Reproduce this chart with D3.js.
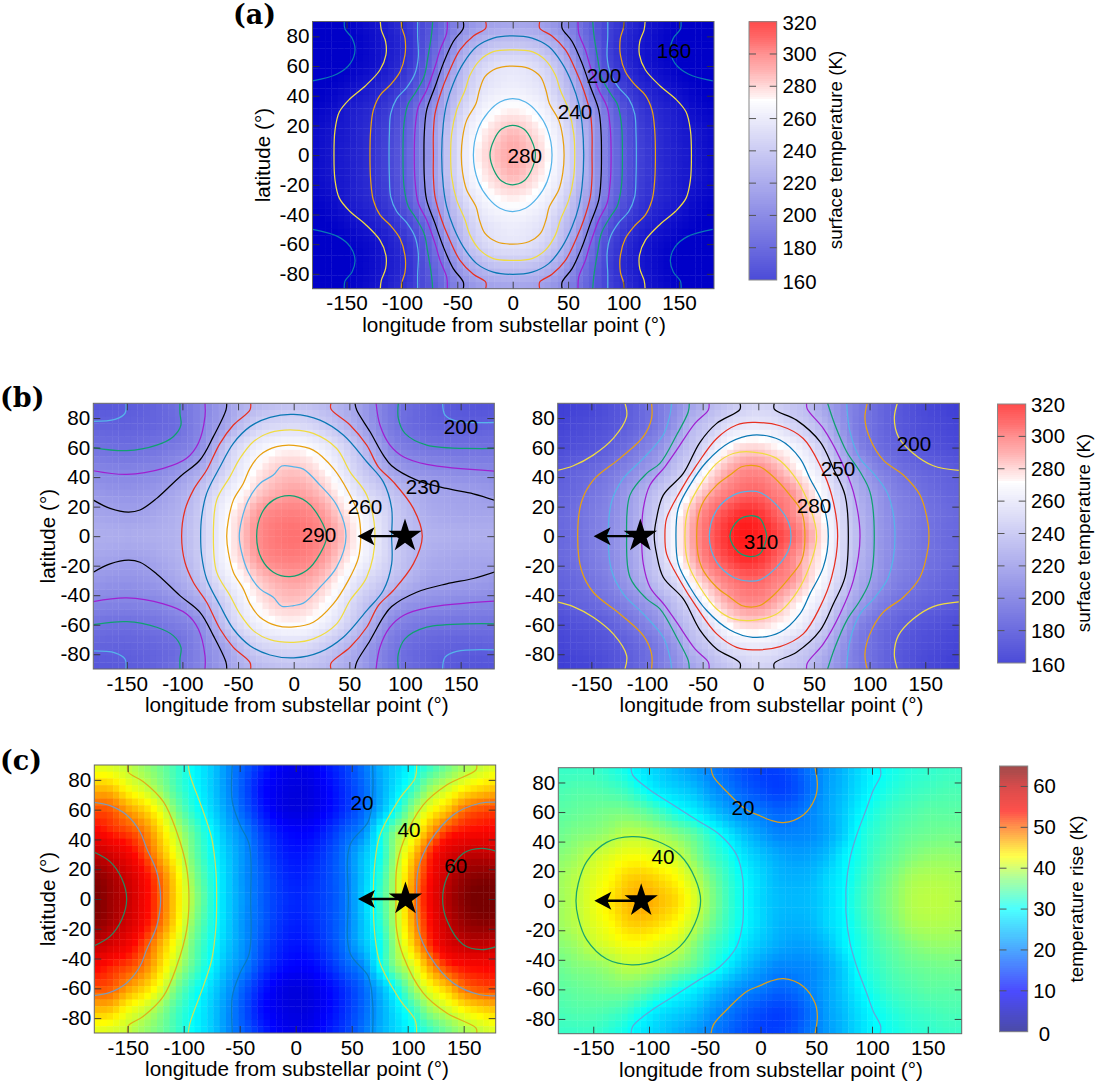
<!DOCTYPE html>
<html>
<head>
<meta charset="utf-8">
<title>Surface temperature maps</title>
<script src="https://cdn.jsdelivr.net/npm/d3@7"></script>
<style>
  html, body { margin: 0; padding: 0; background: #fff; }
  svg { display: block; }
  text { font-family: "Liberation Sans", Helvetica, Arial, sans-serif; fill: #000; }
</style>
</head>
<body>
<svg id="chart" width="1099" height="1088"></svg>
<script>
// ---- Axis values ----
const xTicks = [-150, -100, -50, 0, 50, 100, 150];
const yTicks = [-80, -60, -40, -20, 0, 20, 40, 60, 80];
const tempBarTicks = [160, 180, 200, 220, 240, 260, 280, 300, 320];
const riseBarTicks = [0, 10, 20, 30, 40, 50, 60];
const xTitle = "longitude from substellar point (°)";
const yTitle = "latitude (°)";

// ---- Field samples: one row per latitude, northern hemisphere, equator first ----
const gridLats = [0, 15, 30, 45, 60, 75, 90];
const gridLons = [-180,-165,-150,-135,-120,-105,-90,-75,-60,-45,-30,-15,0,15,30,45,60,75,90,105,120,135,150,165,180];

// western half only; this map is symmetric about the substellar meridian
const tempDayNight = [
  [165,169,173,178,186,196,209,225,244,261,274,282,286],
  [165,169,172,178,185,195,208,226,243,260,271,278.5,283],
  [162,165,171,176,182,192,205,222,237,254,265,271,273],
  [158,161,165,170,176,184,196,210,232,246,258,263,265],
  [156,158,160,164,169,177,188,204,223,241,252,258.5,260],
  [156,158,159.5,163,168.5,175,185,200,214,231,240,245,246],
  [157,158.5,160,165,170,178,187,197,209,220,228,231,232]
];
const tempPlanetA = [
  [236.5,236,235.5,236,237,239,246,257.5,270,282.5,291.5,295.5,297,295,290,281.5,270,261.5,249,243,239,237.5,237,236.5,236.5],
  [232.5,231.5,230.5,231,234,237.5,245,257.5,269,280,289.5,293,294,292,286.5,277,268,259,249,242,236,234,233,232.5,232.5],
  [227,225,224.5,225.5,228.5,234,241,252.5,263,271.5,280.5,285,287,285,279,269,258.5,251,244,238,232,230.5,230,229,227],
  [219,218,217.5,218.5,220,224.5,231.5,241.5,254,265,274,279.5,281,278,271,261,249.5,240.5,230.5,225,222.5,221,220,219.5,219],
  [210,209,208.5,209.5,211.5,214.5,219,231,247.5,259,266,270,271,269,263,254,243,231,218.5,214,211,210,210,210,209.5],
  [203.5,203,203,204,205.5,208,215,224,233,245,252.5,255,256,254,248.5,241,232.5,221,212,207,204,202.5,202,202,202.5],
  [198,199,200,202,205,209.5,215.5,222,230,237.5,241.5,244,245,244,240.5,236,229,219.5,211,207,203,200,198,197,197]
];
const tempPlanetB = [
  [205.5,209,214.5,220,229,240,253.5,269,286,299,308,314,312.5,307,299.5,287.5,273,256,241.5,229.5,221,215.5,211,207.5,205.5],
  [206,209,214,219.5,228,239,250.5,267,283,296,304,309.5,308.5,301.5,292,281,270.5,254,240,229,220.5,215.5,211,208,206],
  [203.5,206,211,216.5,225.5,235.5,245.5,256,272,284,293,298.5,299.5,294,289,278,266,251,236,227,218,213,208.5,205.5,203.5],
  [199.5,203,206,211,217,224.5,233,244.5,256,271.5,283.5,290,291,286,277,268.5,258,242,230,219,212,207.5,204,202,200],
  [193,195.5,197.5,201.5,208,215,223,236,246,258,270,277,278,273.5,268.5,260,248.5,232.5,218,210,204.5,200,197,195,193],
  [190,192,194,197,201,207,214,225.5,240,247,256,261,262,260,253,247.5,238,224.5,213.5,208,201.5,197,194,192,190],
  [187,189,191,195,200,206,213.5,221.5,231,239.5,245,250,253,250,246,241.5,231,222,214,207.5,201.5,196,192,189.5,187]
];
const riseStarA = [
  [65,62.5,60,55,50,44,38,32,26,21.5,17.5,14.5,13,14,16,19.5,26,33,40,48.5,55,61,64,65.5,65.5],
  [64,62,59,54.5,49.5,43.5,37,31.5,26,21,17.5,14,12.5,13.5,16,19.5,25.5,32,40,47.5,54,60,63,64,64],
  [60.5,58.5,55.5,51.5,46.5,41.5,35.5,30.5,25.5,21,16.5,13,11.5,12.5,15.5,19.5,25,30.5,39,45.5,52.5,57.5,60,60.5,60],
  [55,53,51.5,49,44.5,39.5,34.5,29.5,24,20,15,11.5,10,10.5,13.5,17.5,21,30,37.5,41.5,47.5,52,54,54.5,55],
  [51,50.5,47.5,45,41.5,36,31.5,27,22,17,12,8.5,7.5,8,10.5,14,18,24,31,38,42.5,45.5,49.5,51,51.5],
  [46,45.5,42.5,40.5,37.5,33.5,30,26,21,16,11,8.5,7.5,8,10.5,14,18,23,28,33,38,40.5,43,44.5,45.5],
  [41.5,41,40,38,36,33,29.5,26,21,17,13,9.5,8.5,9,12,15,19,23.5,27,30,33,36,38.5,40,41.5]
];
const riseStarB = [
  [38.5,40,42,44,46,47,46,44.5,41.5,37.5,33.5,30,27,25,24.5,25,27,30,33,35.5,37.5,39.3,39.8,39.8,39.2],
  [38.5,39.8,41.5,43,45,45.5,44.5,43,40.2,36.5,33,29.8,27,24.5,24,24.5,27,29.5,32.5,35,37,38.8,39.3,39.3,39],
  [37.5,38.5,40.3,41.5,42.5,42.5,41.5,40.5,37.5,34,31.5,28,25.5,23.5,22.5,23,25,29,31.5,34,35.5,37,37.8,38,37.8],
  [36,37,37.5,38.5,39.8,39.5,38.5,37,35,32,28.5,25,22.5,20.5,20.5,21,23,26.5,31,33,34.5,35.5,36,36.3,36.2],
  [35,35.5,36,36.5,36.5,35.5,33.5,31,29,26,23,20.8,19.5,18,18.5,20.5,23,26,29.5,32,33.5,34.3,35,35,35],
  [34,34.5,34.5,34,33,30.5,28,26.5,25,22,19.8,17.5,16,15,16,19,22.5,25,28,30.5,32,33,33.5,34,34],
  [33,33,33,32,30.5,28,26,24,22,20,18,16,15,15,16.5,19.5,22,24.5,27.5,29.8,31,32,32.5,33,33]
];

// ---- Contours as [longitude, latitude] arcs in the northern hemisphere ----
const contoursDayNight = [
  {level:160, arcs:[[[-152,90],[-151.4,84.9],[-145,78.8],[-142.3,70.8],[-146.5,61.8],[-158.5,54.6],[-180.5,50]]]},
  {level:170, arcs:[[[-119.5,90],[-118.6,84.4],[-114.7,76.5],[-114.4,67.5],[-119.8,57.3],[-133.3,46.4],[-146.8,38],[-156.5,29],[-160.4,16.6],[-161.3,0]]]},
  {level:180, arcs:[[[-100.5,90],[-99.9,85.5],[-97.2,78.8],[-97.2,67.5],[-101.7,56.2],[-110.7,47.1],[-119.8,40.3],[-125.8,30.2],[-128.2,16.6],[-128.8,0]]]},
  {level:190, arcs:[[[-85.8,90],[-85.8,79.9],[-85.2,66.3],[-88.2,55],[-95.7,45.5],[-104.7,38],[-110.1,27.9],[-111.3,14.3],[-111.6,0]]]},
  {level:200, arcs:[[[-72.2,90],[-73.1,82.2],[-76.7,65.2],[-80,52.8],[-88.2,41.5],[-94.2,34.7],[-98.1,21.1],[-99,0]]]},
  {level:210, arcs:[[[-59,90],[-59.6,82.2],[-65.6,70.9],[-70.1,59.5],[-77.7,43.7],[-85.2,32.4],[-88.2,16.6],[-88.8,0]]]},
  {level:220, arcs:[[[-44.6,90],[-44.6,85.5],[-53.6,76.5],[-62.6,61.8],[-70.1,46],[-77.7,30.2],[-79.8,14.3],[-80.1,0]]]},
  {level:230, arcs:[[[-24.4,90],[-24.4,85.5],[-35.5,80.3],[-47.6,70.9],[-58.1,55],[-64.1,43.7],[-70.1,27.9],[-71.6,14.3],[-71.6,0]]]},
  {level:240, closed:true, arcs:[[[0,80.3],[-17.5,78.8],[-32.5,73.1],[-44.6,61.8],[-53.6,48.3],[-59.6,34.7],[-62.6,21.1],[-64.1,0]]]},
  {level:250, closed:true, arcs:[[[0,70.9],[-17.5,69.7],[-29.5,64],[-38.5,53.9],[-43,43.7],[-50.6,30.2],[-55.1,14.3],[-56,0]]]},
  {level:260, closed:true, arcs:[[[0,60],[-14.5,58.4],[-25,52.8],[-30,43.7],[-33,35],[-41.6,23.4],[-45.2,12],[-46.4,0]]]},
  {level:270, closed:true, arcs:[[[0,38],[-11.5,35.8],[-22,29],[-31,18],[-35.5,0]]]},
  {level:280, closed:true, arcs:[[[0,20],[-10,17.5],[-17,10],[-20.5,0]]]}
];
const contoursPlanetA = [
  {level:200, arcs:[[[-150.7,90],[-151.6,83.2],[-160.6,79.1],[-180,77.8]], [[133.8,90],[136,82],[146.4,78],[181,77]]]},
  {level:210, arcs:[[[-102.2,90],[-102.2,83.2],[-101.3,75.3],[-108.2,67.4],[-123.1,61.7],[-150.1,57.9],[-180,60]], [[94,90],[94,79.8],[100,69.6],[119.5,61.7],[180,59.4]]]},
  {level:220, arcs:[[[-79.7,90],[-79.7,81],[-85.7,62.9],[-96.2,52.7],[-117.1,45.9],[-150.1,41.8],[-180,44.3]], [[74,90],[77.5,75.3],[86.5,61.7],[98.5,53.8],[119.5,48.6],[180,44.1]]]},
  {level:230, arcs:[[[-60.2,90],[-60.8,85.5],[-72.2,67.4],[-84.2,51.6],[-102.2,40.3],[-123.1,25.6],[-138.1,17.7],[-148.6,16.3],[-165,18.8],[-180,24.4]], [[55.1,90],[56.6,85.4],[68.6,70.7],[80.5,54.9],[88,47.7],[110.5,38],[137.4,32.3],[161.4,28.7],[181,24.2]]]},
  {level:240, arcs:[[[-38.7,90],[-39.3,85.5],[-54.2,75.3],[-66.2,62.9],[-78.2,44.8],[-90.2,31.2],[-97.7,17.7],[-100.7,0]], [[33.5,90],[33.5,86.1],[50.6,75.3],[65.6,61.7],[76,47],[89.5,36.8],[107.5,18.8],[115.5,0]]]},
  {level:250, closed:true, arcs:[[[0,82.5],[-21.3,80.5],[-39.3,74.2],[-54.2,62.9],[-66.2,47],[-78.2,29],[-82.7,13.1],[-83.6,0]], [[23.6,78.6],[44.6,68.5],[65.6,50.4],[80.5,36.8],[88,18.8],[88,0]]]},
  {level:260, closed:true, arcs:[[[0,71.9],[-21.3,70.1],[-36.3,64],[-48.3,52.7],[-57.2,40.3],[-69.2,24.4],[-72.2,0]], [[17.6,69.6],[38.6,59.4],[50.6,43.6],[65.6,27.8],[73,0]]]},
  {level:270, closed:true, arcs:[[[0,61.5],[-15.3,60.6],[-30.3,54.9],[-39.3,45.9],[-45.3,35.7],[-54.2,24.4],[-58.7,10.9],[-60.2,0]], [[17.6,58.3],[35.6,45.9],[49,30.1],[58,15],[60.2,0]]]},
  {level:280, closed:true, arcs:[[[0,47],[-10.8,47.5],[-18.3,41.4],[-30.3,35.7],[-40.8,24.4],[-46.8,10.9],[-48.9,0]], [[8.7,45.4],[23.6,34.6],[38.6,21],[47,0]]]},
  {level:290, closed:true, arcs:[[[-3.3,27.4],[-18.3,24.4],[-28.8,15.4],[-33.3,0]], [[11.6,23.3],[23.6,12],[29.6,0]]]}
];
const contoursPlanetB = [
  {level:200, arcs:[[[-119.8,90],[-118.3,80.9],[-130.3,66.2],[-148.3,54.9],[-166.2,47.7],[-180.6,44.5]], [[124.9,90],[122.2,79.8],[125.8,67.4],[139.3,56],[157.2,47.7],[180.3,44.5]]]},
  {level:210, arcs:[[[-95.9,90],[-95.9,79.8],[-103.3,67.4],[-124.3,52.7],[-148.3,38],[-158.8,23.3],[-162.3,0]], [[97.9,90],[95.8,79.8],[100.3,66.2],[112.3,51.5],[130.3,41.4],[145.3,27.8],[152.7,7.5],[153.3,0]]]},
  {level:220, arcs:[[[-77.9,90],[-79.4,82],[-85.4,68.5],[-103.3,52.7],[-121.3,39.1],[-131.8,23.3],[-134.8,0]], [[79.4,90],[82.4,70.7],[91.4,52.7],[104.8,41.4],[116.8,27.8],[122.8,0]]]},
  {level:230, arcs:[[[-62,90],[-62.9,84.3],[-73.4,68.5],[-88.4,49.3],[-100.3,42.5],[-115.3,27.8],[-118.3,0]], [[62.3,90],[68.9,75.3],[79.4,57.2],[91.4,43.6],[100.3,30],[104.2,0]]]},
  {level:240, arcs:[[[-44.3,90],[-44.9,85.4],[-56.9,76.4],[-73.4,58.3],[-83.9,47],[-97.3,34.6],[-103.3,18.8],[-104.8,0]], [[43.4,90],[44,86.1],[58.4,73],[73.4,52.7],[85.4,30],[91.4,0]]]},
  {level:250, arcs:[[[-16.5,90],[-16.5,85.9],[-37.4,76.4],[-52.4,63.6],[-67.4,42.5],[-85.4,27.8],[-91.4,12],[-93.5,0]], [[14.4,90],[14.4,86.1],[34.4,78.6],[55.4,64],[67.4,45.9],[77.9,27.8],[80.9,0]]]},
  {level:260, closed:true, arcs:[[[-5,77],[-19.5,75.3],[-37.4,66.2],[-55.4,48.1],[-70.4,30],[-82.4,12],[-83.9,0]], [[19.5,74.8],[40.4,66.2],[55.4,48.1],[65.9,27.8],[71.3,0]]]},
  {level:270, closed:true, arcs:[[[-5,68.5],[-25.5,63.6],[-46.4,50.4],[-61.4,34.6],[-71.9,18.8],[-74,0]], [[19.5,65.1],[37.4,52.7],[46.4,39.1],[58.4,21],[62.9,0]]]},
  {level:280, closed:true, arcs:[[[-5,57],[-22.5,56],[-37.4,49.3],[-52.4,34.6],[-62.9,18.8],[-65.9,0]], [[16.5,52.7],[31.5,41.4],[43.4,25.5],[52.4,0]]]},
  {level:290, closed:true, arcs:[[[-6,48],[-15,47],[-25.5,41.4],[-37.4,34.6],[-50.9,21],[-55.4,0]], [[1.5,47],[13.5,40.2],[28.4,27.8],[38.9,16.5],[41.9,0]]]},
  {level:300, closed:true, arcs:[[[-7.5,30.5],[-22.5,27.8],[-37.4,17.6],[-44,0]], [[1.5,29.6],[16.5,21],[27,9.7],[29.4,0]]]},
  {level:310, closed:true, arcs:[[[-7.5,13.8],[-18,10.8],[-25.5,0]], [[1.5,12],[6,5.2],[7.5,0]]]}
];
const contoursRiseA = [
  {level:20, arcs:[[[-56.6,90],[-56.6,65.4],[-49.7,49.7],[-41.4,36.3],[-40.2,0]], [[68.7,90],[68.7,69.9],[64.8,52],[48.5,36.3],[47,0]]]},
  {level:30, arcs:[[[-95.9,90],[-94.4,83.3],[-82.5,58.7],[-75,40.8],[-71.2,18.3],[-70.6,0]], [[108,90],[106.5,81.1],[93.1,67.7],[75.3,43],[70.8,25],[69.3,0]]]},
  {level:40, arcs:[[[-150,90],[-149.4,85.1],[-136,78.8],[-118.2,65.4],[-106.3,45.2],[-97.3,20.6],[-95.3,0]], [[161.6,90],[161,86.7],[134.8,76.6],[113.9,63.2],[96.1,38.5],[90.1,20.6],[89.5,0]]]},
  {level:50, arcs:[[[-181,65],[-165.8,62.7],[-150.9,56.4],[-139,45.2],[-133.1,34],[-124.1,18.3],[-120.6,0]], [[180,65],[164.5,64.3],[140.7,56.5],[119.9,38.5],[109.5,20.6],[108,0]]]},
  {level:60, arcs:[[[-181,31.8],[-165.8,25.1],[-155.4,13.9],[-150.9,0]], [[180,31.8],[166,34],[149.7,30.7],[134.8,13.9],[131.2,0]]]}
];
const contoursRiseB = [
  {level:20, arcs:[[[-44.4,90],[-42.3,84],[-30.3,73.8],[-12.4,61.4],[-0.5,57.5],[8.5,54.6],[20.5,52.8],[38.4,58],[48.9,69.3],[51,78.3],[48.9,90]]]},
  {level:30, arcs:[[[-116.1,90],[-114.6,85],[-99.1,74.9],[-78.2,64.8],[-57.2,54.6],[-36.3,44.5],[-21.4,31],[-16,15.2],[-15.4,0]], [[107.2,90],[107.8,85],[101.2,74.9],[95.2,62.5],[86.3,44.5],[80.3,28.7],[76.7,8.4],[76.7,0]]]},
  {level:40, closed:true, arcs:[[[-115.5,43.4],[-138,39.5],[-155.9,26.4],[-163.4,11.8],[-165.5,0]], [[-93.1,40.4],[-72.2,30.9],[-58.7,15.2],[-53.7,0]]]}
];

// ---- Contour labels as [text, longitude, latitude] ----
const labelsDayNight = [["160",145.6,70.8],["200",82.4,53.9],["240",56.2,29.5],["280",11,0]];
const labelsPlanetA = [["200",150.3,74.6],["230",116.2,33.9],["260",64,20.3],["290",22.7,1.4]];
const labelsPlanetB = [["200",139.9,63],["250",71.6,46.1],["280",50,21],["310",2.4,-3.4]];
const labelsRiseA = [["20",59.2,64.5],["40",101.2,46.4],["60",143,22.2]];
const labelsRiseB = [["20",-15.7,63.4],["40",-87.5,30.2]];

// ---- Host star longitudes and arrow tips, one pair per map ----
const starLonTempA = 100, arrowLonTempA = 57.3;
const starLonTempB = -106, arrowLonTempB = -148;
const starLonRiseA = 98, arrowLonRiseA = 55.6;
const starLonRiseB = -107, arrowLonRiseB = -149;

// ---- Colour maps ----
const tempStops = [160, 272, 273.5, 280, 290, 300, 310, 320];
const tempColors = ["#0000c8", "#ffffff", "#ffeeee", "#ffcccc", "#ff9090", "#ff6464", "#ff2a2a", "#ff0000"];
const riseStops = [0, 10, 20, 30, 37, 43, 50, 54, 60, 65];
const riseColors = ["#000080", "#0000ff", "#0080ff", "#00ffff", "#80ff80", "#ffff00", "#ff6800", "#ff0800", "#c80000", "#780000"];
const contourCycle = ["#0a78b4", "#f0dc40", "#e8a010", "#56b4e9", "#10a070", "#a020d0", "#000000", "#e83020"];
const riseContourCycle = ["#0a78b4", "#f0dc40", "#e8a010", "#6aa0d8", "#10a070"];

const tempColor = d3.scaleLinear().domain(tempStops).range(tempColors).clamp(true);
const riseColor = d3.scaleLinear().domain(riseStops).range(riseColors).clamp(true);

const svg = d3.select("#chart");
const defs = svg.append("defs");
const FONT = 20.7;

// Catmull-Rom weights for smooth resampling of the coarse field
function cubic(p0, p1, p2, p3, t) {
  return 0.5 * (2 * p1 + (p2 - p0) * t + (2 * p0 - 5 * p1 + 4 * p2 - p3) * t * t + (3 * p1 - p0 - 3 * p2 + p3) * t * t * t);
}

// Builds a sampler over the full sphere by reflecting northern rows across the equator
function fieldSampler(rows) {
  const full = rows.slice(1).reverse().concat(rows);
  const latAxis = gridLats.slice(1).reverse().map(d => -d).concat(gridLats);
  const clampI = (i, n) => Math.max(0, Math.min(n - 1, i));
  const dLon = gridLons[1] - gridLons[0], dLat = gridLats[1] - gridLats[0];
  return (lon, lat) => {
    const u = (Math.max(-180, Math.min(180, lon)) - gridLons[0]) / dLon;
    const v = (Math.max(-90, Math.min(90, lat)) - latAxis[0]) / dLat;
    const i = Math.min(gridLons.length - 2, Math.floor(u)), j = Math.min(latAxis.length - 2, Math.floor(v));
    const tu = u - i, tv = v - j;
    const rowAt = jj => {
      const r = full[clampI(jj, full.length)], n = r.length;
      return cubic(r[clampI(i - 1, n)], r[clampI(i, n)], r[clampI(i + 1, n)], r[clampI(i + 2, n)], tu);
    };
    return cubic(rowAt(j - 1), rowAt(j), rowAt(j + 1), rowAt(j + 2), tv);
  };
}

function tickStyle(g) {
  g.select(".domain").remove();
  g.selectAll("line").attr("stroke", "#333").attr("stroke-width", 0.9);
  g.selectAll("text").style("font-size", FONT + "px").attr("fill", "#000");
}

// Draws one map: heat cells, contours, frame, ticks, labels
function drawMap(cfg, rows, contours, labels, color, cycle, startIndex) {
  const { left, right, top, bottom, zero, pxPerDeg } = cfg;
  const x = d3.scaleLinear().domain([-180, 180]).range([zero - 180 * pxPerDeg, zero + 180 * pxPerDeg]);
  const y = d3.scaleLinear().domain([-90, 90]).range([bottom, top]);
  const g = svg.append("g");

  const clipId = "clip" + cfg.id;
  const clip = defs.append("clipPath").attr("id", clipId);
  clip.append("rect").attr("x", left).attr("y", top).attr("width", right - left).attr("height", bottom - top);

  const sample = fieldSampler(rows);
  const nLon = 64, nLat = 40;
  const lonEdges = d3.scaleLinear().domain([0, nLon]).range([x.invert(left), x.invert(right)]);
  const latEdges = d3.scaleLinear().domain([0, nLat]).range([90, -90]);
  const cells = d3.cross(d3.range(nLon), d3.range(nLat));
  g.append("g").attr("clip-path", `url(#${clipId})`).selectAll("rect").data(cells).join("rect")
    .attr("x", d => x(lonEdges(d[0])))
    .attr("y", d => y(latEdges(d[1])))
    .attr("width", (right - left) / nLon + 0.4)
    .attr("height", (bottom - top) / nLat + 0.4)
    .attr("fill", d => color(sample(lonEdges(d[0] + 0.5), latEdges(d[1] + 0.5))));

  const lineOpen = d3.line().x(d => x(d[0])).y(d => y(d[1])).curve(d3.curveCatmullRom);
  const lineClosed = d3.line().x(d => x(d[0])).y(d => y(d[1])).curve(d3.curveCatmullRomClosed);
  const south = arc => arc.map(p => [p[0], -p[1]]);
  const lineGroup = g.append("g").attr("clip-path", `url(#${clipId})`)
    .attr("fill", "none").attr("stroke-width", 1.25).attr("opacity", cfg.lineOpacity);

  contours.forEach((c, idx) => {
    const stroke = cycle[(startIndex + idx) % cycle.length];
    let arcs = c.arcs;
    if (cfg.mirrorLon) arcs = arcs.concat(arcs.map(a => a.map(p => [-p[0], p[1]])));
    const add = (pts, gen) => lineGroup.append("path").attr("d", gen(pts)).attr("stroke", stroke);
    if (c.closed) {
      // walk east arc pole-to-pole, then back up the west arc
      const [west, east] = arcs;
      const eastArc = cfg.mirrorLon ? east.slice(1) : east;
      const loop = eastArc
        .concat(south(eastArc).reverse().slice(1))
        .concat(south(west))
        .concat(west.slice().reverse().slice(1));
      add(loop, lineClosed);
    } else {
      arcs.forEach(a => {
        const reachesEquator = a[a.length - 1][1] === 0;
        if (reachesEquator) add(a.concat(south(a).reverse().slice(1)), lineOpen);
        else { add(a, lineOpen); add(south(a), lineOpen); }
      });
    }
  });

  // frame and inward ticks on all four sides
  const fmt = d => String(d);
  const ax = g.append("g");
  ax.append("g").attr("transform", `translate(0,${bottom})`)
    .call(d3.axisBottom(x).tickValues(xTicks).tickSizeInner(-7).tickSizeOuter(0).tickPadding(7).tickFormat(fmt)).call(tickStyle);
  ax.append("g").attr("transform", `translate(0,${top})`)
    .call(d3.axisTop(x).tickValues(xTicks).tickSizeInner(-7).tickSizeOuter(0).tickFormat("")).call(tickStyle);
  ax.append("g").attr("transform", `translate(${left},0)`)
    .call(d3.axisLeft(y).tickValues(yTicks).tickSizeInner(-7).tickSizeOuter(0).tickPadding(3).tickFormat(fmt)).call(tickStyle);
  ax.append("g").attr("transform", `translate(${right},0)`)
    .call(d3.axisRight(y).tickValues(yTicks).tickSizeInner(-7).tickSizeOuter(0).tickFormat("")).call(tickStyle);
  ax.append("rect").attr("x", left).attr("y", top).attr("width", right - left).attr("height", bottom - top)
    .attr("fill", "none").attr("stroke", "#666").attr("stroke-width", 1);

  g.append("g").selectAll("text").data(labels).join("text")
    .attr("x", d => x(d[1])).attr("y", d => y(d[2]))
    .attr("text-anchor", "middle").attr("dominant-baseline", "central")
    .style("font-size", FONT + "px").text(d => d[0]);

  svg.append("text").attr("x", (left + right) / 2 + cfg.xTitleShift).attr("y", bottom + 43)
    .attr("text-anchor", "middle").style("font-size", FONT + "px").text(xTitle);
  if (cfg.yTitleX) {
    svg.append("text").attr("transform", `translate(${cfg.yTitleX},${(top + bottom) / 2}) rotate(-90)`)
      .attr("text-anchor", "middle").style("font-size", FONT + "px").text(yTitle);
  }
  return { x, y, g };
}

// Star at the host longitude with an arrow pointing along the direction of motion
function drawStar(map, lon, tipLon) {
  const { x, y, g } = map;
  const mk = g.append("g");
  mk.append("line").attr("x1", x(lon)).attr("y1", y(0)).attr("x2", x(tipLon) + 8).attr("y2", y(0))
    .attr("stroke", "#000").attr("stroke-width", 2.4);
  const tip = x(tipLon), cy = y(0);
  const head = d3.path();
  head.moveTo(tip, cy); head.lineTo(tip + 17, cy - 9); head.lineTo(tip + 13, cy); head.lineTo(tip + 17, cy + 9); head.closePath();
  mk.append("path").attr("d", head.toString()).attr("fill", "#000");
  mk.append("path").attr("d", d3.symbol(d3.symbolStar, 345)())
    .attr("transform", `translate(${x(lon)},${cy})`).attr("fill", "#000");
}

// Vertical colour key with ticks on both sides and centred numbers
function drawKey(cfg, color, ticks, title) {
  const { left, right, top, bottom, lo, hi, labelX, titleX } = cfg;
  const y = d3.scaleLinear().domain([lo, hi]).range([bottom, top]);
  const g = svg.append("g");
  const strips = d3.range(128);
  const sv = d3.scaleLinear().domain([0, 128]).range([lo, hi]);
  g.append("g").attr("opacity", 0.7).attr("shape-rendering", "crispEdges")
    .selectAll("rect").data(strips).join("rect")
    .attr("x", left).attr("width", right - left)
    .attr("y", d => y(sv(d + 1)) - 0.3).attr("height", (bottom - top) / 128 + 0.6)
    .attr("fill", d => color(sv(d + 0.5)));
  g.append("rect").attr("x", left).attr("y", top).attr("width", right - left).attr("height", bottom - top)
    .attr("fill", "none").attr("stroke", "#888").attr("stroke-width", 1);
  const inner = ticks.filter(t => t !== lo && t !== hi);
  g.selectAll("line.l").data(inner).join("line").attr("class", "l")
    .attr("x1", left).attr("x2", left + 7).attr("y1", y).attr("y2", y).attr("stroke", "#555").attr("stroke-width", 1);
  g.selectAll("line.r").data(inner).join("line").attr("class", "r")
    .attr("x1", right - 7).attr("x2", right).attr("y1", y).attr("y2", y).attr("stroke", "#555").attr("stroke-width", 1);
  g.selectAll("text.n").data(ticks).join("text").attr("class", "n")
    .attr("x", labelX)
    .attr("y", t => y(t) + (t === lo ? 2 : (t === hi ? 1 : 0)))
    .attr("text-anchor", "middle").attr("dominant-baseline", "central")
    .style("font-size", "20.4px").text(d => d);
  g.append("text").attr("transform", `translate(${titleX},${cfg.titleY}) rotate(-90)`)
    .attr("text-anchor", "middle").attr("dominant-baseline", "central")
    .style("font-size", "18.8px").text(title);
}

function panelLetter(text, px, py) {
  svg.append("text").attr("x", px).attr("y", py)
    .style("font-family", '"DejaVu Serif", serif').style("font-weight", "bold").style("font-size", "27px")
    .text(text);
}

drawMap({ id: "a", left: 312.5, right: 714, top: 21.5, bottom: 288.7, zero: 512.7, pxPerDeg: 1.108, mirrorLon: true, lineOpacity: 1, yTitleX: 270, xTitleShift: 0.8 },
  tempDayNight.map(r => r.concat(r.slice(0, -1).reverse())), contoursDayNight, labelsDayNight, tempColor, contourCycle, 0);

const mapBL = drawMap({ id: "bl", left: 93.3, right: 494.3, top: 403.3, bottom: 669, zero: 293.7, pxPerDeg: 1.113, lineOpacity: 1, yTitleX: 55, xTitleShift: 3 },
  tempPlanetA, contoursPlanetA, labelsPlanetA, tempColor, contourCycle, 3);
const mapBR = drawMap({ id: "br", left: 557.7, right: 959.3, top: 403.3, bottom: 669, zero: 758.3, pxPerDeg: 1.113, lineOpacity: 1, xTitleShift: 13 },
  tempPlanetB, contoursPlanetB, labelsPlanetB, tempColor, contourCycle, 1);
const mapCL = drawMap({ id: "cl", left: 94.3, right: 495.7, top: 765, bottom: 1033, zero: 295.7, pxPerDeg: 1.12, lineOpacity: 0.85, yTitleX: 55, xTitleShift: 2 },
  riseStarA, contoursRiseA, labelsRiseA, riseColor, riseContourCycle, 0);
const mapCR = drawMap({ id: "cr", left: 558.3, right: 961.7, top: 767.7, bottom: 1033.7, zero: 760.5, pxPerDeg: 1.115, lineOpacity: 0.95, xTitleShift: 11 },
  riseStarB, contoursRiseB, labelsRiseB, riseColor, riseContourCycle, 2);

drawStar(mapBL, starLonTempA, arrowLonTempA);
drawStar(mapBR, starLonTempB, arrowLonTempB);
drawStar(mapCL, starLonRiseA, arrowLonRiseA);
drawStar(mapCR, starLonRiseB, arrowLonRiseB);

drawKey({ left: 749, right: 776.7, top: 21.7, bottom: 280, lo: 160, hi: 320, labelX: 799.5, titleX: 835, titleY: 150 },
  tempColor, tempBarTicks, "surface temperature (K)");
drawKey({ left: 997.5, right: 1025.7, top: 404, bottom: 663, lo: 160, hi: 320, labelX: 1048, titleX: 1083, titleY: 533 },
  tempColor, tempBarTicks, "surface temperature (K)");
drawKey({ left: 999.5, right: 1027.7, top: 766, bottom: 1031.7, lo: 0, hi: 65, labelX: 1044.5, titleX: 1076, titleY: 899 },
  riseColor, riseBarTicks, "temperature rise (K)");

panelLetter("(a)", 233, 24);
panelLetter("(b)", 0, 407);
panelLetter("(c)", 0, 770);
</script>
</body>
</html>
